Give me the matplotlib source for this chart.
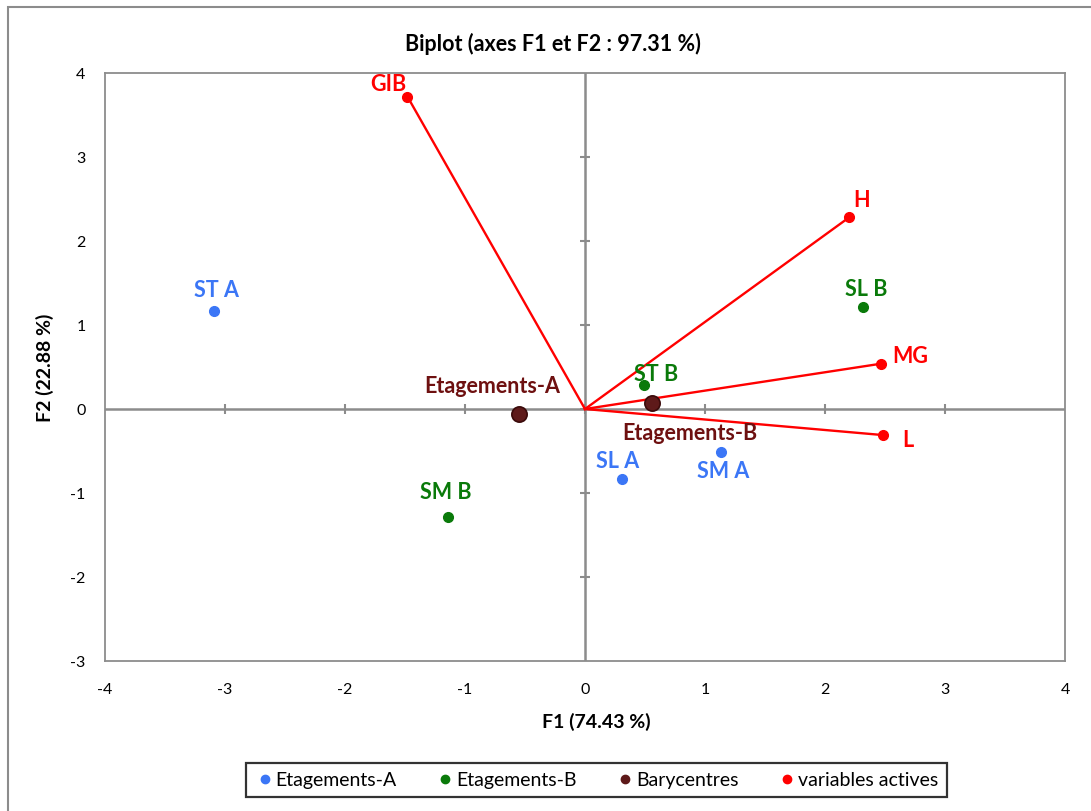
import matplotlib
matplotlib.use("Agg")
import matplotlib.pyplot as plt
from matplotlib.patches import Rectangle
from matplotlib.lines import Line2D
import numpy as np

plt.rcParams['font.family'] = ['Lato', 'DejaVu Sans']
plt.rcParams['axes.unicode_minus'] = False

# Observations
obsA_names = ["ST A", "SL A", "SM A"]
obsA_x = [-3.09, 0.31, 1.13]
obsA_y = [1.17, -0.83, -0.51]

obsB_names = ["SL B", "ST B", "SM B"]
obsB_x = [2.32, 0.49, -1.14]
obsB_y = [1.22, 0.28, -1.29]

bary_names = ["Etagements-A", "Etagements-B"]
bary_x = [-0.55, 0.56]
bary_y = [-0.06, 0.07]

var_names = ["GIB", "H", "MG", "L"]
var_x = [-1.48, 2.20, 2.47, 2.48]
var_y = [3.72, 2.28, 0.54, -0.31]

xticks = [-4, -3, -2, -1, 0, 1, 2, 3, 4]
yticks = [-3, -2, -1, 0, 1, 2, 3, 4]

title = "Biplot (axes F1 et F2 : 97.31 %)"
xlabel = "F1 (74.43 %)"
ylabel = "F2 (22.88 %)"
legend_labels = ["Etagements-A", "Etagements-B", "Barycentres", "variables actives"]

cA = "#3B76F6"
cB = "#0A7A0A"
cBar = "#5E1A1A"
cBarTxt = "#6E1010"
cVar = "#FF0000"
grey = "#8C8C8C"

W, H = 1091, 812
fig = plt.figure(figsize=(W / 100, H / 100), dpi=100)
ax = fig.add_axes([105 / W, 1 - 662 / H, (1065 - 105) / W, (662 - 74) / H])
ax.set_xlim(xticks[0], xticks[-1])
ax.set_ylim(yticks[0], yticks[-1])
for s in ax.spines.values():
    s.set_color(grey)
    s.set_linewidth(1.3)
ax.set_xticks(xticks)
ax.set_yticks(yticks)
ax.tick_params(length=0, labelsize=11.5, colors="black", pad=15)
ax.tick_params(axis='y', pad=14)

# central axes
ax.axhline(0, color=grey, lw=1.8, zorder=1)
ax.axvline(0, color=grey, lw=1.8, zorder=1)
ax.plot(xticks[1:-1], [0] * len(xticks[1:-1]), ls='none', marker='|', ms=7, mew=1.5, color=grey, zorder=1)
ax.plot([0] * len(yticks[1:-1]), yticks[1:-1], ls='none', marker='_', ms=7, mew=1.5, color=grey, zorder=1)

# variable vectors
for x, y in zip(var_x, var_y):
    ax.plot([0, x], [0, y], color=cVar, lw=1.7, zorder=3)
ax.plot(var_x, var_y, ls='none', marker='o', ms=7, color=cVar, zorder=4)

ax.plot(obsA_x, obsA_y, ls='none', marker='o', ms=7, color=cA, zorder=4)
ax.plot(obsB_x, obsB_y, ls='none', marker='o', ms=7, color=cB, zorder=4)
ax.plot(bary_x, bary_y, ls='none', marker='o', ms=11, color=cBar, mec="#3A0A0A", mew=1.2, zorder=5)

lab_kw = dict(textcoords='offset pixels', fontsize=15.5, fontweight='bold', ha='center', va='center', zorder=6)
offA = [(2, 21), (-5, 18), (3, -19)]
for n, x, y, o in zip(obsA_names, obsA_x, obsA_y, offA):
    ax.annotate(n, (x, y), xytext=o, color=cA, **lab_kw)
offB = [(3, 18), (12, 12), (-2, 26)]
for n, x, y, o in zip(obsB_names, obsB_x, obsB_y, offB):
    ax.annotate(n, (x, y), xytext=o, color=cB, **lab_kw)
offBar = [(-27, 29), (38, -29)]
for n, x, y, o in zip(bary_names, bary_x, bary_y, offBar):
    ax.annotate(n, (x, y), xytext=o, color=cBarTxt, **lab_kw)
offV = [(-19, 13), (13, 18), (29, 8), (25, -4)]
for n, x, y, o in zip(var_names, var_x, var_y, offV):
    ax.annotate(n, (x, y), xytext=o, color=cVar, **lab_kw)

fig.text(553 / W, 1 - 44 / H, title, ha='center', va='center', fontsize=15.5, fontweight='bold')
fig.text(596 / W, 1 - 722 / H, xlabel, ha='center', va='center', fontsize=14, fontweight='bold')
fig.text(45 / W, 1 - 368 / H, ylabel, ha='center', va='center', fontsize=14, fontweight='bold', rotation=90)

handles = [Line2D([], [], ls='none', marker='o', ms=6, color=c) for c in (cA, cB, cBar, cVar)]
leg = fig.legend(handles, legend_labels, loc='center', bbox_to_anchor=(596.5 / W, 1 - 781 / H), ncol=4,
                 frameon=True, fancybox=False, edgecolor='black', fontsize=14, handletextpad=0.05,
                 columnspacing=2.0, handlelength=1.0, borderpad=0.45)
leg.get_frame().set_linewidth(1.6)

fig.add_artist(Rectangle((8 / W, -0.2), 2, 1.2 - 8 / H, transform=fig.transFigure, fill=False,
                         edgecolor=grey, lw=1.5))

fig.savefig("out.png", dpi=100)
